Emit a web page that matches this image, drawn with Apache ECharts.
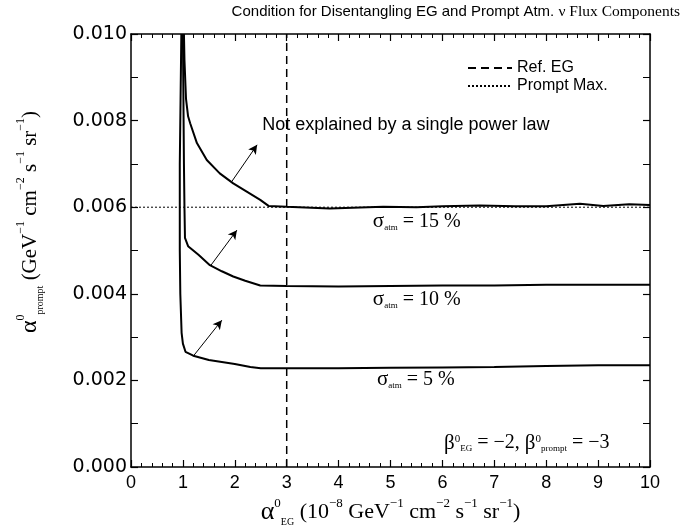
<!DOCTYPE html>
<html><head><meta charset="utf-8">
<script src="https://cdn.jsdelivr.net/npm/echarts@6/dist/echarts.min.js"></script>
<style>html,body{margin:0;padding:0;background:#fff}#c{width:683px;height:525px}</style>
</head><body><div id="c"></div>
<script>
// ---- data ----
const x15 = [1.02,1.03,1.05,1.06,1.10,1.14,1.27,1.46,1.71,1.97,2.23,2.49,2.65,3.0,3.83,4.86,5.5,6.0,6.72,7.4,8.0,8.65,9.1,9.6,10.0];
const y15 = [0.0100,0.0094,0.0088,0.0085,0.0081,0.00794,0.00748,0.00709,0.00678,0.00655,0.00636,0.00617,0.00603,0.00601,0.00597,0.00601,0.00600,0.00602,0.00604,0.00602,0.00602,0.00608,0.00603,0.00607,0.00605];
const x10 = [1.00,1.01,1.02,1.03,1.04,1.10,1.30,1.52,1.75,1.97,2.20,2.49,3.0,4.0,5.0,6.0,7.0,8.0,9.0,10.0];
const y10 = [0.0100,0.0085,0.0070,0.0060,0.00529,0.00510,0.00490,0.00466,0.00452,0.00440,0.00430,0.00419,0.00418,0.00417,0.00418,0.00419,0.00419,0.00421,0.00421,0.00421];
const x5 = [0.97,0.955,0.94,0.94,0.95,0.975,1.00,1.05,1.20,1.50,2.00,2.30,2.50,3.0,4.0,5.0,6.0,7.0,8.0,9.0,10.0];
const y5 = [0.0100,0.0085,0.0070,0.0050,0.0040,0.0031,0.00285,0.00266,0.00257,0.00247,0.00238,0.00231,0.00228,0.00228,0.00228,0.00229,0.00230,0.00231,0.00233,0.00235,0.00235];
const refEG = 3;           // Ref. EG vertical line (x)
const promptMax = 0.006;   // Prompt Max. horizontal line (y)
const arrowFrom = [[1.94,0.00659],[1.54,0.00466],[1.20,0.00256]];
const arrowTo   = [[2.43,0.00744],[2.04,0.00547],[1.75,0.00339]];
const labelPos  = [[4.66,0.00566],[4.66,0.00386],[4.74,0.00201],[6.03,0.00055],[2.53,0.00790]];
const labelText = [
  '{g|σ}{sb|atm}{t| = 15 %}',
  '{g|σ}{sb|atm}{t| = 10 %}',
  '{g|σ}{sb|atm}{t| = 5 %}',
  '{g|β}{sp|0}{sb|EG}{t| = −2, }{g|β}{sp|0}{sb|prompt}{t| = −3}',
  '{h|Not explained by a single power law}'
];
const xMin = 0, xMax = 10, xStep = 1;
const yMin = 0, yMax = 0.010, yStep = 0.002;

const zip = (a,b) => a.map((v,i)=>[v,b[i]]);
const serif = 'Liberation Serif';
const sans = 'Liberation Sans';
const richLab = {
  g:{fontFamily:serif,fontSize:21,color:'#000',lineHeight:20,verticalAlign:'middle'},
  t:{fontFamily:serif,fontSize:20,color:'#000',lineHeight:20,verticalAlign:'middle'},
  sb:{fontFamily:serif,fontSize:9,color:'#000',lineHeight:10,verticalAlign:'bottom'},
  sp:{fontFamily:serif,fontSize:11,color:'#000',lineHeight:10,verticalAlign:'top'},
  h:{fontFamily:sans,fontSize:18,color:'#000',lineHeight:20}
};

const chart = echarts.init(document.getElementById('c'), null, {renderer:'canvas'});
const axisCommon = {
  type:'value', min:xMin, max:xMax, interval:xStep,
  axisLine:{show:true,onZero:false,lineStyle:{color:'#000',width:1.5}},
  splitLine:{show:false}
};
chart.setOption({
  animation:false,
  backgroundColor:'#fff',
  title:{
    right:3, top:4, padding:0,
    text:'{s|Condition for Disentangling EG and Prompt Atm. }{t|ν Flux Components}',
    textStyle:{fontWeight:'normal', rich:{
      s:{fontFamily:sans,fontSize:15,fontWeight:'normal',color:'#000'},
      t:{fontFamily:serif,fontSize:15.5,fontWeight:'normal',color:'#000'}
    }}
  },
  legend:{
    data:['Ref. EG','Prompt Max.'],
    orient:'vertical', left:462, top:55,
    itemWidth:44, itemHeight:10, itemGap:2,
    itemStyle:{opacity:0},
    textStyle:{fontFamily:sans,fontSize:16,color:'#000'}
  },
  grid:{left:131,right:33,top:34,bottom:58,outerBoundsMode:'none',containLabel:false},
  xAxis:[
    Object.assign({}, axisCommon, {
      position:'bottom',
      name:'{a|α}{sp|0}{sb|EG}{n| (10}{sp|−8}{n| GeV}{sp|−1}{n| cm}{sp|−2}{n| s}{sp|−1}{n| sr}{sp|−1}{n|)}',
      nameLocation:'middle', nameGap:23,
      nameTextStyle:{rich:{
        a:{fontFamily:serif,fontSize:26,color:'#000',lineHeight:30,verticalAlign:'middle'},
        n:{fontFamily:serif,fontSize:22,color:'#000',lineHeight:30,verticalAlign:'middle'},
        sp:{fontFamily:serif,fontSize:13,color:'#000',lineHeight:16,verticalAlign:'top'},
        sb:{fontFamily:serif,fontSize:10,color:'#000',lineHeight:10,verticalAlign:'bottom'}
      }},
      axisTick:{show:true,inside:true,length:7,lineStyle:{color:'#000',width:1.2}},
      minorTick:{show:true,splitNumber:5,length:4,lineStyle:{color:'#000',width:1}},
      axisLabel:{show:true,margin:7,fontFamily:sans,fontSize:18,color:'#000'}
    }),
    Object.assign({}, axisCommon, {
      position:'top',
      axisTick:{show:true,inside:true,length:7,lineStyle:{color:'#000',width:1.2}},
      minorTick:{show:true,splitNumber:5,length:4,lineStyle:{color:'#000',width:1}},
      axisLabel:{show:false}
    })
  ],
  yAxis:[
    {
      type:'value', min:yMin, max:yMax, interval:yStep, position:'left',
      axisLine:{show:true,onZero:false,lineStyle:{color:'#000',width:1.5}},
      splitLine:{show:false},
      axisTick:{show:true,inside:true,length:7,lineStyle:{color:'#000',width:1.2}},
      minorTick:{show:true,splitNumber:2,length:7,lineStyle:{color:'#000',width:1}},
      axisLabel:{show:true,margin:4,fontFamily:'DejaVu Sans',fontSize:19,color:'#000',
        formatter:v=>v.toFixed(3)}
    },
    {
      type:'value', min:yMin, max:yMax, interval:yStep, position:'right',
      axisLine:{show:true,onZero:false,lineStyle:{color:'#000',width:1.5}},
      splitLine:{show:false},
      axisTick:{show:true,inside:true,length:7,lineStyle:{color:'#000',width:1.2}},
      minorTick:{show:true,splitNumber:2,length:7,lineStyle:{color:'#000',width:1}},
      axisLabel:{show:false}
    }
  ],
  graphic:[{
    type:'text', x:30, y:222, rotation:Math.PI/2,
    style:{
      text:'{a|α}{sp|0}{sb|prompt}{n| (GeV}{sp|−1}{n| cm}{sp|−2}{n| s}{sp|−1}{n| sr}{sp|−1}{n|)}',
      align:'center', verticalAlign:'middle',
      rich:{
        a:{fontFamily:serif,fontSize:24,fill:'#000',lineHeight:30,verticalAlign:'middle'},
        n:{fontFamily:serif,fontSize:21,fill:'#000',lineHeight:30,verticalAlign:'middle'},
        sp:{fontFamily:serif,fontSize:12,fill:'#000',lineHeight:16,verticalAlign:'top'},
        sb:{fontFamily:serif,fontSize:10,fill:'#000',lineHeight:10,verticalAlign:'bottom'}
      }
    }
  }],
  series:[
    {name:'Ref. EG', type:'line', symbol:'none', color:'#000', data:[[refEG,yMin],[refEG,yMax]],
     lineStyle:{color:'#000',width:1.5,type:[8,5]}, z:1},
    {name:'Prompt Max.', type:'line', symbol:'none', color:'#000', data:[[xMin,promptMax],[xMax,promptMax]],
     lineStyle:{color:'#000',width:1,type:[2,2]}, z:1},
    {name:'σ15', type:'line', symbol:'none', data:zip(x15,y15), lineStyle:{color:'#000',width:2}, z:3},
    {name:'σ10', type:'line', symbol:'none', data:zip(x10,y10), lineStyle:{color:'#000',width:2}, z:3},
    {name:'σ5', type:'line', symbol:'none', data:zip(x5,y5), lineStyle:{color:'#000',width:2}, z:3,
     markLine:{
       silent:true, symbol:['none','arrow'], symbolSize:[7,9],
       lineStyle:{color:'#000',width:1,type:'solid'}, label:{show:false},
       data:arrowFrom.map((p,i)=>[{coord:p},{coord:arrowTo[i]}])
     }},
    {name:'labels', type:'scatter', symbolSize:0, silent:true, itemStyle:{opacity:1},
     data:labelPos.map((p,i)=>({value:p, label:{formatter:labelText[i]}})),
     label:{show:true, position:'right', distance:0, color:'#000', opacity:1, textBorderWidth:0, rich:richLab}}
  ]
});
</script></body></html>
